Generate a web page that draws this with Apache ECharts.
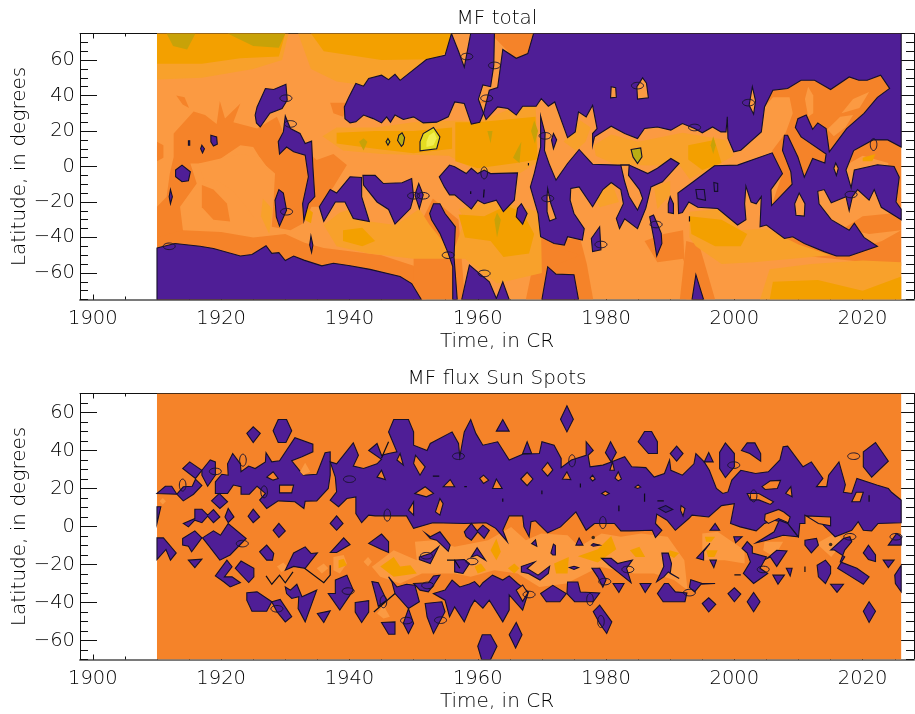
<!DOCTYPE html>
<html><head><meta charset="utf-8">
<style>html,body{margin:0;padding:0;background:#fff}#c{width:915px;height:714px}</style>
<script src="https://cdn.jsdelivr.net/npm/echarts@6/dist/echarts.min.js"></script>
</head><body><div id="c"></div>
<script>
// ---- tick labels / titles ----
const timeTicks=[1900,1920,1940,1960,1980,2000,2020];
const latTicks=[-60,-40,-20,0,20,40,60];
const titles=["MF total","MF flux Sun Spots"];
const xName="Time, in CR", yName="Latitude, in degrees";

// ---- MF total contour bands, [time, latitude] ----
const totalBase=[[[1910,75],[2026,75],[2026,-75],[1910,-75]]];
const totalOrange=[
[[1912.6,18.6],[1915.7,31],[1917.5,29],[1919.3,24],[1919.8,37],[1920.6,27],[1923,35.5],[1921.9,25],[1925.6,21.4],[1928.7,28],[1930,16.7],[1932.6,11],[1934.9,3.6],[1937.5,7],[1939.6,.8],[1937.5,-11.5],[1935.2,-22.7],[1934.1,-22.7],[1932.8,-32],[1930.8,-36],[1927.9,-34],[1928.2,-17],[1928.4,-4],[1926.6,1.7],[1925,11],[1923,12],[1918.8,1.7],[1915.2,1.7],[1916.2,-9.6],[1913.6,-22.7],[1914.1,-37.7],[1910,-40.6],[1910,-22.7],[1911.5,-17],[1912,-4],[1912.6,5.4]],
[[1917,-10.5],[1918.8,-13],[1920.9,-20.8],[1921.4,-31],[1918.8,-30],[1917,-23]],
[[1910,-40],[1914,-36],[1920,-37],[1925,-40],[1930,-38],[1933,-43],[1936,-46],[1945,-50],[1950,-56],[1952,-75],[1910,-75]],
[[1910,14],[1911,12],[1911,5],[1910,3]],
[[1913,40],[1914.3,39],[1915,33],[1914,35]],
[[1937,36],[1940,36],[1939,28],[1937.5,30]],
[[1953,-18],[1957,-30],[1958,-75],[1950,-75],[1950,-40]],
[[1967.5,-75],[1969.5,-40],[1976,-41],[1977,-55],[1978,-75]],
[[1969.5,-20],[1971,-35],[1969.5,-42],[1976,-50],[1969,-60]],
[[1986,-42],[1989,-38],[1992,-36],[1992.5,-75],[1994,-75],[1992,-52],[1988,-54]],
[[1992.5,-42],[1994.5,-44],[1997,-75],[1991.5,-75]],
[[2004.5,25],[2004.7,33.6],[2006,43],[2008.3,44],[2010.4,48.6],[2012.5,48.6],[2015,43.4],[2017.9,50.5],[2019.4,48.6],[2020.7,48.6],[2022.8,51.5],[2024.2,44],[2022.3,39],[2020.2,30],[2017.5,21.4],[2014.8,8.3],[2014,2],[2010.9,-6],[2009,-10],[2005.8,-22],[2007.5,-4],[2005.9,7.7],[2006,15]],
[[2002,-36],[2008,-38],[2014,-46],[2018,-48],[2023,-42],[2026,-36],[2026,-56],[2018,-53],[2010,-50],[2003,-44]],
[[2017,-35],[2020,-28],[2026,-26],[2026,-36],[2021,-38]],
[[2016,10],[2021,17],[2026,14],[2026,-24],[2024,-18],[2024,2],[2020,6],[2017,0]],
[[1960,36],[1969,36],[1970,45],[1962,75],[1968.7,75],[1968,55],[1963,40]]
];
const totalPale=[
[[1916.5,1.7],[1923,7],[1926,5.4],[1927.9,-4],[1928.2,-19],[1927,-34],[1925,-28.4],[1924.3,-24.6],[1921.9,-14],[1919.3,-7.7],[1917.5,-9.6]],
[[2004.2,19.5],[2004.7,33.6],[2006,39],[2008.6,39],[2009.1,30],[2008,19],[2006,9.5],[2001.7,5.7],[2000.6,9.2]],
[[2011.5,45],[2012.3,40],[2012.3,30],[2011.5,28],[2011,38]],
[[2014.5,21],[2016.5,28],[2018.5,29],[2017.3,22],[2015.5,17]],
[[2016.7,30],[2018.5,38],[2021,42],[2019.5,33]]
];
const totalWarm=[
[[1910,75],[1930.5,75],[1929.5,60],[1925,55],[1917,50],[1910,49]],
[[1932,75],[1934,55],[1938,48],[1942,46],[1948,48],[1953,60],[1955.9,75]],
[[1935.8,17],[1938,22],[1944,22],[1950,25],[1957,26],[1960,25],[1966,34],[1969,34],[1969.5,3],[1966.5,-4],[1960,-3],[1955.5,6],[1945,7],[1939,9]],
[[1935.5,-30],[1936,-33],[1938.5,-26],[1941.5,-23],[1943.1,-31],[1947.2,-33],[1950.9,-24],[1952.5,-33],[1956.1,-49],[1958,-30],[1957,-24],[1962,-20],[1966,-22],[1969.8,-26],[1970,-60],[1963,-66],[1958,-52],[1950,-52],[1943,-49],[1938,-45]],
[[1926.5,-18],[1928,-24],[1927.5,-38],[1926.2,-28]],
[[1978.1,12],[1980.8,18],[1985,14],[1991.9,19],[1998.7,15],[1999.9,6],[1996.9,0],[1993,-7],[1991.4,1],[1986.8,.6],[1981.3,1.2],[1978.4,6.1]],
[[1973.4,14],[1976,26],[1977.6,22],[1976.8,14],[1975.3,9]],
[[1981,-10],[1982,-20],[1979,-23],[1978,-15]],
[[1993,-25.5],[1997.8,-24],[2001,-36],[2005,-35],[2010,-44],[2015,-50],[2009,-52],[2003,-54],[1998,-55],[1994,-45],[1993,-40]],
[[2005.5,-58],[2012,-55],[2020,-53],[2026,-54],[2026,-75],[2004,-75]],
[[1983,-8],[1985.5,-18],[1985,-24],[1983,-18]],
[[1987.5,-12],[1990,-8],[1990,-16],[1988,-24]]
];
const totalAmber=[
[[1910,75],[1930,75],[1929,62],[1923,61],[1917,58],[1910,58]],
[[1934,75],[1936,65],[1945,60],[1953,60.5],[1955,64],[1955.9,75]],
[[1938,19],[1944,20],[1950,20],[1956,22],[1956,10],[1950,7.5],[1944,10],[1938,13]],
[[1956.5,25],[1960,25],[1969,28],[1969.3,4],[1966,2],[1960,-1],[1956.5,3]],
[[1939,-36],[1942,-34.5],[1944,-42],[1942,-45],[1939,-42]],
[[1957,-27],[1961,-28],[1964.5,-22],[1967,-26],[1968.8,-38],[1968,-49],[1964,-51],[1962,-42],[1958,-40]],
[[1992.8,12],[1996.9,15],[1998,2],[1995,-2],[1992.8,4]],
[[1993,-28],[1998,-30],[2002,-38],[2001,-45],[1997,-45],[1993.3,-38]],
[[2006,-65],[2013,-64],[2020,-70],[2026,-62],[2026,-75],[2005.5,-75]],
[[1933,-22],[1934.3,-26],[1934,-32],[1933,-30]],
[[2020,5],[2022,7],[2021.5,3],[2020,3]]
];
const totalOlive=[
[[1911.5,75],[1912.5,68],[1914.7,66],[1916,75]],
[[1921,75],[1925,68],[1929,67],[1930,75]],
[[1941.5,14],[1942.2,9],[1942.8,14],[1942.2,16]],
[[1961.5,20],[1962,13],[1962.3,20]],
[[1968.3,20],[1968.9,13],[1969.4,20],[1968.8,26]],
[[1965.5,5],[1966.5,2],[1966.8,14],[1966.2,10]],
[[1962.6,-30],[1963,-40],[1963.6,-30],[1963,-26]],
[[1996.3,12],[1996.7,7],[1997.1,12],[1996.7,17]]
];
// ---- MF total closed contours ----
const totalPurple=[
[[1910,-46],[1912.8,-43.4],[1916.7,-45],[1918.8,-46.2],[1923,-50.5],[1924.8,-49.6],[1927,-44.7],[1927.9,-49],[1929,-48.6],[1930,-53],[1931.3,-50.5],[1932.9,-52.8],[1935.7,-56],[1937.5,-54.6],[1940.1,-56],[1943.2,-58],[1947.9,-62],[1949.7,-66],[1951.2,-75],[1910,-75]],
[[1939.2,33.6],[1939.9,39],[1941,46.8],[1942.2,45.3],[1943,49.6],[1945,51.5],[1946.1,49],[1947.1,52],[1947.9,48.6],[1952,60.3],[1954.9,62.7],[1955.9,75],[1957,65],[1957.9,56],[1958.9,75],[1962.6,75],[1962.5,57],[1962,45],[1960.8,46],[1960.1,38],[1960.9,30],[1960.3,25],[1959,23.9],[1957.9,35.5],[1956.4,36.4],[1955.4,28],[1953.6,25],[1951.5,24.6],[1950,28],[1948.4,26.5],[1947.1,29],[1946.4,25],[1945.8,28],[1945,24.6],[1943.7,27],[1942.2,29],[1941,25.2],[1940.1,24.6],[1939.3,27]],
[[1963.1,44.5],[1963.9,66],[1966,61],[1967.8,63.7],[1968.7,75],[2026,75],[2026,11],[2023.9,15],[2021.6,15],[2018.6,9],[2017.4,-2],[2018.2,-12],[2018.7,-2],[2022.3,1],[2024.9,0],[2025.7,-6],[2025.2,-20],[2026,-24],[2026,-30],[2022.9,-23],[2021.8,-13],[2021,-19],[2019.2,-13],[2018.4,-17],[2017.9,-25],[2017.4,-17],[2015.1,-20.5],[2014,-13],[2013,-14],[2013.2,-21],[2015.1,-30],[2017.9,-36],[2018.7,-32],[2020.2,-40],[2022.3,-45],[2017.9,-50.5],[2015.9,-50.5],[2014,-48],[2010.9,-43.4],[2009.1,-39.6],[2007.8,-40.6],[2005,-33],[2004,-34],[2004.2,-17],[2003.4,-21],[2002.6,-20],[2001.8,-11],[2001.6,-21],[2001.8,-30],[2000.5,-33],[1997.4,-23.7],[1994.3,-23],[1992.9,-20],[1991.9,-26],[1991.3,-26.5],[1991.2,-15],[1993.8,-8],[1996.9,.4],[2000.5,.8],[2005.9,7.7],[2007.5,-4],[2005.7,-13],[2005.8,-22],[2009,-10],[2008.8,-3],[2007.5,9],[2007.8,17.6],[2008.3,17.6],[2009.9,5.4],[2010.9,-6],[2012.2,4.5],[2014.1,2],[2014.3,7],[2010.4,16.7],[2009.5,22],[2009.9,27],[2011.2,29],[2012.2,21],[2013,24.6],[2014.3,21.4],[2014.8,8.3],[2017.5,21.4],[2020.2,30],[2022.3,39],[2024.2,44],[2022.8,51.5],[2020.7,48.6],[2019.4,48.6],[2017.9,50.5],[2015,43.4],[2012.5,48.6],[2010.4,48.6],[2008.3,44],[2006,43],[2004.7,33.6],[2004.2,19.5],[2001,9.2],[1999.9,8.3],[1999,15.8],[1998.9,28],[1998.7,19.5],[1997.9,19.5],[1996.6,22.3],[1995,19],[1993.8,21.4],[1991.9,24.2],[1990.1,20.5],[1988,22.3],[1986,21.4],[1984.9,15.8],[1982.9,18.6],[1980.8,22.7],[1978.2,16.7],[1977.9,12],[1977.9,18.6],[1978.6,21.4],[1977.9,34.5],[1976.9,28],[1975.7,30.8],[1975.2,19.5],[1974,16.3],[1972,36.4],[1971,34],[1969.9,38.3],[1969.1,34],[1967,34],[1966,29],[1964.7,32.7],[1963.1,33.6],[1961.3,26.5],[1960.9,30],[1961.8,43]],
[[1969.8,28.4],[1970.5,18.6],[1970.4,9],[1971.2,.8],[1972.2,-7.7],[1974,1.7],[1975.8,9.6],[1977.9,1.3],[1981.8,.8],[1983.6,.8],[1984.7,-1],[1986.5,-4],[1988,-1],[1990.1,4.5],[1991.4,1.7],[1988.8,-8.6],[1987,-11.5],[1986.2,-23.5],[1984.9,-35],[1982.9,-29.5],[1982.1,-35],[1981.6,-29.3],[1982.7,-21],[1982.3,-13],[1980.8,-9],[1979.5,-13],[1977.9,-22.7],[1975.8,-11.5],[1974.5,-12.4],[1974.4,-19],[1975,-26.5],[1976.6,-35],[1976.3,-41.5],[1974,-39.6],[1973.5,-44.3],[1971.9,-43.4],[1969.8,-39.6],[1969.4,-26.5],[1968.2,-11.5],[1968.8,-4],[1969.8,11]],
[[1954,-5.8],[1955.6,.8],[1956.4,-.2],[1958.2,-4],[1959,-1],[1960,-4],[1961,-2],[1962,-4],[1966.2,-3.6],[1965.7,-19],[1964,-25.5],[1962.9,-19],[1961,-21],[1960,-19],[1959,-24],[1956.4,-16],[1955.6,-16],[1954.8,-11.5]],
[[1952.5,-26.5],[1953.1,-21],[1954.1,-21],[1954.9,-26.5],[1956.5,-34],[1956.3,-51],[1956.8,-75],[1956.1,-75],[1956.1,-56.5],[1955.4,-49],[1954.1,-37.7],[1952.8,-30]],
[[1925.3,29],[1925.6,33.6],[1926.9,44],[1928.2,43.4],[1930.1,46.4],[1930.3,37.4],[1929.5,32.7],[1927.6,30],[1926.1,22.3],[1925.5,24.6]],
[[1930,28.5],[1930.8,21.4],[1932.3,18.6],[1933.1,13],[1934.1,14.3],[1934.3,-.2],[1934.6,-17],[1933.6,-21],[1932.9,-30.6],[1932.7,-21],[1933.6,-5.8],[1933.1,6.4],[1931.3,8.3],[1930.2,11],[1929.1,7],[1928.9,14],[1929.7,19.5]],
[[1928.4,-19],[1929,-13],[1929.7,-15],[1930.2,-24.6],[1929.1,-33.6],[1928.6,-28.4]],
[[1934,-39.2],[1934.3,-44.3],[1934.1,-48.5],[1933.8,-44.3]],
[[1911.9,-17],[1912.1,-13],[1912.4,-17],[1912.1,-21]],
[[1912.9,-2],[1913.9,.8],[1915.2,-3],[1914.9,-8],[1913.9,-8.6],[1912.9,-5.8]],
[[1918.4,17.6],[1919.3,16.7],[1919.4,12.6],[1918.8,11.6],[1918.4,13.9]],
[[1917,12],[1917.4,10],[1917.1,7.7],[1916.8,10]],
[[1914.9,14.5],[1915.1,14.5],[1915.1,12],[1914.9,12]],
[[1935.3,-22.7],[1937,-13],[1938,-15],[1940.1,-5.8],[1941.9,-6.2],[1941.9,-17],[1943.1,-31],[1940.6,-29.3],[1939.3,-20],[1937.8,-20],[1936,-31]],
[[1942.1,-5],[1944,-5],[1945.3,-9.6],[1948.2,-9.2],[1949.7,-6.8],[1950,-17],[1949.5,-23.7],[1947.1,-32.5],[1946.1,-24.2],[1944.3,-20],[1942.2,-10.5]],
[[1950.2,-16],[1950.8,-9.6],[1951.5,-16],[1950.9,-23.7]],
[[1971.8,18.6],[1972.3,15],[1971.8,10],[1971.5,15]],
[[1966.8,-21],[1967.7,-26.5],[1967,-32.5],[1966,-28.4],[1966.2,-23.5]],
[[1990,-17],[1990.5,-21],[1990.5,-26.5],[1989.7,-26],[1989.7,-21]],
[[1977.7,-40.6],[1979,-34],[1979.2,-47],[1977.9,-48]],
[[1986.8,-28.4],[1987.4,-27.4],[1988.6,-37.7],[1988.7,-43.4],[1987.9,-50.5],[1987.5,-41.5]],
[[1970,-75],[1970.9,-56.5],[1972.2,-60.7],[1975,-61],[1975.7,-75]],
[[1993.4,-75],[1994,-61],[1995.2,-75]],
[[1957.5,-75],[1958.7,-55.6],[1960.8,-62],[1961.8,-65],[1962.9,-74.4],[1963.9,-65],[1964.9,-75]],
[[1996.8,-9],[1997.4,-9.5],[1997.4,-14],[1996.9,-14]],
[[1994,-13],[1995.3,-13],[1995.5,-19],[1994.2,-18]]
];
const totalIslands=[
[[1980.8,45],[1981.5,44.5],[1981.6,39],[1980.7,38.7]],
[[1984.8,45],[1985.7,50],[1986.3,47],[1986.6,38.7],[1984.9,38]],
[[2002.8,45],[2003.3,37],[2003,29.5],[2002.3,34.5]],
[[2015.8,2],[2016.2,-1],[2015.9,-5],[2015.5,-1]],
[[2010.1,-15],[2011,-21],[2010.9,-28],[2009.6,-27.5],[2009.4,-21]],
[[1970.9,-12.4],[1971.4,-21],[1972.2,-29.3],[1971.2,-30.8],[1970.8,-25.5],[1970.8,-17]],
[[1982.3,.8],[1983.6,.8],[1983.5,-5],[1985.2,-13],[1985.7,-18],[1984.9,-24.6],[1983.6,-17],[1982.9,-8.6]]
];
const totalYellowRim=[
[[1947.7,17.6],[1948.2,19],[1948.6,16.3],[1948.4,12.6],[1948.1,11.4],[1947.5,14.7]],
[[1946,15.8],[1946.3,14],[1946,12],[1945.7,14]],
[[1983.9,9.6],[1985.4,10.5],[1985.6,5.4],[1984.9,1.7],[1984.2,5.4]]
];
const totalYellow=[[[1951,14],[1951.5,18.6],[1953.1,22],[1954.1,16.7],[1953.6,10],[1951,8.8]]];
const totalYellowCore=[[[1952,14],[1952.4,17.5],[1953.2,19.5],[1953.6,16],[1953.1,12],[1952,11]]];
const totalEllipseH=[[1930.1,38.5],[1930.8,24],[1911.9,-45],[1930.2,-25.5],[1950,-16.5],[1951.5,-16.5],[1955.4,-50],[1958.3,62],[1962.6,57],[1961.4,38.5],[1970.5,17.3],[1970.9,-18],[1979.2,-44],[1984.9,45.6],[1987.8,-32.7],[1993.8,22],[2002.2,36],[2018.2,-15.8],[1961,-60.3]];
const totalEllipseV=[[1961,-3.6],[2021.7,12.4]];
const totalLines=[[[1958.9,-14],[1958.9,-15.5]],[[1961,-13],[1960.9,-17.5]],[[1967.9,2],[1967.9,.5]],[[1993,-28],[1993,-31]]];
const totalDots=[];

// ---- MF flux Sun Spots contour bands ----
const spotBase=[[[1910,70],[2026,70],[2026,-70],[1910,-70]]];
const spotPale=[
[[1943.5,-21.2],[1946.9,-12.5],[1950.5,-17.7],[1950.2,-8],[1953,-7.2],[1956.4,-10.7],[1961.6,-7.2],[1965.2,-.2],[1967.5,-7.2],[1969.9,-3.7],[1974,-4.6],[1975.8,-10.7],[1979.3,-3.7],[1982.3,-5.4],[1985.5,-3.7],[1989.6,-5.4],[1992.2,-17.7],[1992.7,-33.5],[1990.6,-28.2],[1987.5,-24.7],[1984.4,-24.7],[1979,-21.2],[1973.8,-30],[1969.6,-31.8],[1966.2,-24.7],[1962.6,-23],[1958.9,-26.5],[1956.4,-24.7],[1951.3,-24.7],[1947.9,-30],[1944.8,-26.5]],
[[1995,-3.7],[1997.4,-2.8],[2001.6,-12.5],[2001.6,-19.5],[1998.5,-17.7],[1995,-17.7]],
[[2004.7,-8],[2007.6,-8],[2006.2,-16],[2004.5,-12.5]],
[[2012.8,-9],[2016,-3],[2017,-8],[2015.1,-16]],
[[1937.5,-16],[1939.1,-15],[1939.6,-19.5],[1938.5,-24.7],[1937.5,-23]],
[[1928.7,-21],[1929.7,-18.9],[1930.5,-22],[1929.4,-23.9]],
[[1934.9,-22],[1936,-19.5],[1936.7,-22],[1935.7,-24.7]],
[[1942.2,-18.6],[1942.9,-16],[1943.5,-18.6],[1942.9,-21]],
[[1910.4,13.3],[1910.9,15],[1911.4,13.3],[1910.9,11.6]],
[[1944.3,-45.8],[1945.3,-41.4],[1946.3,-47.5],[1945.3,-48.4]]
];
const spotAmber=[
[[1944.8,-21],[1946.9,-16],[1947.9,-21],[1949.5,-20.4],[1950.5,-24.7],[1946.9,-26.5]],
[[1962,-12.5],[1962.9,-6.3],[1963.6,-13.3],[1962.9,-17.7]],
[[1964.7,-22],[1965.7,-19.5],[1966.5,-22],[1965.7,-24.7]],
[[1959.5,-21],[1960.5,-19.5],[1961.3,-23],[1960,-24.7]],
[[1975.6,-15.6],[1978.7,-12],[1980.8,-5],[1981.6,-12],[1978.7,-19]],
[[1971.9,-19.5],[1974.2,-16],[1974,-24.7],[1972.2,-24.7]],
[[1989.9,-12.5],[1991.4,-14],[1990.6,-16.6],[1989.6,-14.7]],
[[1983.7,-12.5],[1985.2,-10.7],[1986.1,-16],[1984.6,-16]],
[[1995.4,-5.4],[1997,-5.4],[1996.4,-8],[1995.6,-8]],
[[1995.6,-12.5],[1997.4,-12.5],[1996.9,-16],[1995.9,-16]],
[[1938.3,-17.7],[1939.1,-17],[1939.6,-20.4],[1938.3,-22]]
];
const spotPurple=[
[[1910,17.4],[1911.3,21.2],[1912.3,21.2],[1913.1,17],[1914.1,20.9],[1915.5,21.2],[1916,24.9],[1917,21.6],[1915.7,17],[1914.1,13.5],[1913.1,17]],
[[1914,30.5],[1915.1,34],[1917,29.6],[1916,25.3]],
[[1917,29.6],[1918.3,35],[1919.1,34],[1919.1,27],[1917.9,21.2],[1917,27]],
[[1919.1,23.5],[1920.1,27.5],[1921.1,27],[1921,33],[1921.8,38.4],[1923,33],[1923.1,28.8],[1924.3,31.8],[1925.3,30.5],[1926.9,34],[1927,38.8],[1927.9,34],[1929.1,34.6],[1931.5,46.7],[1934.3,43.3],[1934.3,39.3],[1932.6,36.7],[1931,34.6],[1932.8,27],[1934.9,27.5],[1936.2,38.8],[1937,39.3],[1937,27],[1936.7,20],[1934.9,13.5],[1933.1,13.3],[1932.9,9.5],[1931.5,13],[1928.9,13.5],[1927.1,9.5],[1926,13.9],[1926.9,17.4],[1925.6,21.2],[1924.4,17],[1923.1,17],[1923.1,20.9],[1921.9,21.8],[1921,17.4],[1919.1,17.4]],
[[1918.5,13.5],[1919.7,17.4],[1921,13],[1919.8,9.5]],
[[1924,49],[1925,52.5],[1926.1,49],[1925,44.2]],
[[1928.1,50.4],[1928.9,56.3],[1930.2,56.3],[1931,50.4],[1930.1,44.2],[1928.9,44.2]],
[[1914.1,1.6],[1915.9,4.2],[1915.9,9.1],[1917,9.1],[1917.9,6],[1918.8,8.9],[1919.8,5],[1918.8,2],[1917.9,5.4],[1917,2],[1915.9,3.3],[1914.9,-.2]],
[[1920.6,5],[1921.1,9.5],[1922,5],[1921.1,2]],
[[1924.2,5.4],[1925,9.1],[1926,5],[1925,2]],
[[1928.1,-2],[1929,1.6],[1930,-2.3],[1929,-5.8]],
[[1937,1.6],[1938,5.6],[1939,1.6],[1938,-2]],
[[1910,10.4],[1910.6,10.4],[1910,1.6]],
[[1910,-6],[1911,-6],[1913,-13.9],[1912.1,-17.7],[1911.4,-12.1],[1910,-17.4]],
[[1914,-6.3],[1915.9,-2.3],[1917,-6],[1915.4,-13.3],[1914.9,-10.4],[1914,-9.8]],
[[1917.1,-6],[1918.8,-2.3],[1919.9,-4.6],[1921.1,1.6],[1923.9,-6.3],[1921.4,-15],[1919.8,-17.7],[1918,-9.8]],
[[1914.9,-17.7],[1917,-17.2],[1915.9,-21.6]],
[[1919.1,-26],[1920.9,-17.7],[1921.7,-21.2],[1920.5,-26.5],[1921.7,-26.5],[1923,-29.6],[1921.4,-31.8],[1920.4,-29.1]],
[[1922.2,-22],[1923.1,-18.2],[1925.1,-22],[1925.1,-26.5],[1924.3,-29.5]],
[[1926,-13.3],[1927.1,-9.8],[1928.2,-14.2],[1928,-17.7],[1927.1,-17.7]],
[[1930,-23],[1931.3,-13.9],[1933.1,-10.7],[1934,-14.2],[1935,-13.9],[1934.1,-17.7],[1933.1,-22],[1931.3,-21]],
[[1930,-31.8],[1930.8,-33.5],[1931.8,-30.4],[1932.6,-37],[1934.9,-33.5],[1933.1,-50.2],[1932,-43.2],[1932.1,-37],[1931,-37.9],[1930.2,-35.3]],
[[1937.8,-28.2],[1939.6,-25.6],[1940.6,-33.5],[1938.5,-44],[1936.7,-35.3],[1937.8,-35.3]],
[[1924,-34.9],[1925.6,-34.4],[1927.9,-39.6],[1927.1,-44.6],[1924.8,-44.6],[1924,-38.8]],
[[1927.9,-39.6],[1929.2,-38.4],[1931,-47.5],[1930,-50.2],[1928.7,-44.9]],
[[1935,-45.8],[1937,-44.4],[1936,-50.5]],
[[1940.9,-40],[1943,-39],[1943,-45],[1941.9,-50.5],[1940.9,-45]],
[[1945,-50.5],[1947.1,-50.2],[1947.1,-56.7],[1946.1,-56.7]],
[[1951.8,-40.5],[1954.4,-39.6],[1954.9,-44.9],[1953.1,-56.3],[1952.1,-47.5]],
[[1943,-8.9],[1945,-4],[1946.1,-8],[1946.1,-13.7],[1945,-12.1]],
[[1937,-13.7],[1939.1,-6],[1940.1,-9.5],[1938,-13.7]],
[[1951.9,-3.7],[1952.6,-5.4],[1954.1,-2.8],[1955.7,-9.8],[1955.4,-13],[1953.6,-7.2],[1952.6,-6.3]],
[[1950.9,-16],[1952.6,-14.2],[1953.9,-10.7],[1952.6,-19.5],[1950.9,-17.4]],
[[1943.5,-29],[1944.5,-29.6],[1945.8,-38.8],[1944.5,-42],[1944,-35.3]],
[[1946.1,-26.5],[1947.4,-31.8],[1948.9,-30.4],[1950.2,-30.9],[1950.9,-39.6],[1949.2,-43.2],[1947.1,-35.3],[1946.6,-29]],
[[1950,-30],[1952.3,-29.6],[1953.1,-26],[1954.1,-25.6],[1953.1,-30.9],[1952.3,-34.4],[1951,-33.5]],
[[1949.2,-43.2],[1950,-51],[1949.2,-56.3],[1948.4,-51]],
[[1937,34],[1938,33],[1940.6,44],[1941.4,37.5],[1940.6,31.8],[1942.2,30.5],[1944.3,33],[1945,35.4],[1943,40],[1944.3,43.7],[1945,37.5],[1946.1,38.4],[1947.4,39.3],[1946.1,49.8],[1946.9,56.3],[1949.2,56.3],[1950,49.8],[1950,42.8],[1952.1,40],[1952.6,43.7],[1956,49.8],[1957,43.7],[1957.2,36.7],[1957.9,49.8],[1958.9,56.3],[1959.7,49],[1960.8,42.8],[1963.1,44.6],[1964.9,35],[1967,38],[1969.6,38.4],[1970,44.6],[1971.9,42.8],[1973,35.8],[1973,31],[1974.6,35],[1976.9,37.5],[1976.9,44.6],[1978,40],[1977.2,37.5],[1977.5,31.4],[1979.5,32.3],[1980.8,34],[1982.9,36.7],[1984,31.4],[1986.2,31],[1987.5,26],[1989.1,27.9],[1989.9,35],[1990.1,29.6],[1991.9,27],[1993.7,33],[1994,38.4],[1995.3,34],[1996.1,29.6],[1997.2,20],[1998.2,17.4],[1999,18.2],[1999.6,24.4],[2001,29.6],[2003.3,27.9],[2005.3,28.8],[2007.1,35],[2007.6,42],[2008.3,42.3],[2010.7,31.4],[2012,34],[2013.8,25.3],[2012.8,21],[2014.4,21],[2014.7,27],[2016.3,34],[2017.3,22],[2017,18],[2018.3,17.4],[2019.1,25.3],[2022.2,21.8],[2024,20],[2024.5,18],[2026,13.9],[2026,2],[2022.4,1.6],[2021.4,-2.3],[2020.1,-2],[2019.3,2.5],[2018.3,-2],[2015.7,-5.4],[2014.7,-2],[2013.6,1.6],[2011,6],[2011,1.6],[2010.2,1.6],[2010,-5.4],[2008.3,1.6],[2006.2,3.3],[2004.7,1.6],[2003.4,-2.3],[2000.9,-.2],[1999.4,1.6],[2000,12],[1998,11],[1996,5],[1993.4,6],[1992.9,4.2],[1990.8,-2],[1989.5,3.3],[1987.9,6.5],[1987.7,1.6],[1988.7,-2],[1987.7,-5.8],[1987.2,-2],[1983.8,-2.3],[1982.3,-2.3],[1981.3,1.6],[1978.2,1.6],[1976.9,-2],[1975.3,7.7],[1972.9,-.2],[1970.9,-3.3],[1969,3],[1968.3,2.5],[1968,-5.4],[1967.2,-.2],[1967,5.6],[1964.9,5.6],[1963.9,-2],[1964.6,-8],[1962.8,-1],[1961.3,2],[1957.9,1.6],[1953,2],[1950,-1],[1948.9,5.6],[1944,5.6],[1943,6],[1941.9,2],[1941,6.8],[1941,15.6],[1939.6,14.7],[1938.3,10.4],[1937,13.9],[1938,18.2],[1937.8,26]],
[[1957.9,-2.8],[1959,1.6],[1959.9,-2.3],[1960.8,.7],[1961.8,-2],[1961,-6.3],[1960,-2.8],[1959,-7.2],[1958.2,-5.4]],
[[1962.9,50.2],[1963.9,56.3],[1964.9,50.2]],
[[1973.9,63.5],[1974.9,56.5],[1973.9,49.8],[1972.9,56.5]],
[[1980.7,44.6],[1981.6,38.9],[1980.8,34],[1979.9,38.9]],
[[1967,38.4],[1967.7,44.6],[1968.4,38.4]],
[[1985,44.6],[1986,50],[1987.1,50],[1988,44.6],[1988,38.4],[1986.6,38.4]],
[[1990,38.4],[1991,42.3],[1992,38.4],[1991,34.4]],
[[1995.3,34],[1996,38.9],[1996.7,34]],
[[1997.7,39],[1998.6,44],[2000,38.4],[2000,31.4],[1998.6,25.8],[1997.7,30.5]],
[[2001.1,40],[2002,44],[2003.2,44],[2004.1,38.4],[2004.1,34.4],[2002.4,38.4]],
[[2020.1,39.3],[2022,44.2],[2024,34.4],[2021.4,26],[2020.1,31.4]],
[[1953.1,-35.3],[1954.9,-33.5],[1956,-28.2],[1957.2,-31.8],[1958.7,-30.3],[1959.5,-29],[1960.3,-31.8],[1960.8,-29.6],[1962.3,-25.6],[1963.9,-28.2],[1964.9,-26],[1966.2,-30],[1967.9,-34.4],[1967,-44],[1964.9,-36],[1964.9,-44],[1963.9,-50.2],[1961.8,-38.8],[1960.8,-43],[1959.5,-38.8],[1958.9,-42.3],[1957.9,-50.2],[1956.4,-42.3],[1955.6,-47.5],[1954.9,-38.8]],
[[1969.8,-35.3],[1971.7,-31],[1973.8,-35.3],[1972.8,-39.6],[1970.7,-39.6]],
[[1973.9,-35.3],[1974,-29.2],[1975.6,-29.2],[1976,-34.5],[1979,-35],[1978,-39.6],[1975.1,-39.6]],
[[1978,-44.8],[1979,-41.4],[1980.9,-50.2],[1980.1,-56.3],[1979,-51]],
[[1981.1,-30],[1982.8,-30],[1982,-34.7]],
[[1985.3,-30],[1987,-30],[1986.1,-34.7]],
[[1988,-35.3],[1989.1,-30],[1989.7,-30],[1990.8,-34.4],[1992.6,-35],[1992.3,-39.6],[1988.9,-39.6]],
[[1993,-32],[1993.2,-28],[1995,-30],[1997,-30],[1994.8,-30.4],[1993.8,-34.4]],
[[1995,-40.5],[1996,-37.5],[1997.1,-41],[1996,-45]],
[[1999,-35.3],[2000,-32.3],[2001,-35.6],[2000,-39.6]],
[[2002,-39.6],[2003,-34.7],[2004,-39.6],[2003,-44.9]],
[[2020.1,-44.6],[2021,-39.6],[2022,-44.6],[2021,-50.5]],
[[2015,-30.4],[2017,-30.4],[2016,-34.7]],
[[2006,-25.6],[2007.8,-25.6],[2006.8,-30.4]],
[[2008.1,-22],[2009,-22],[2008.7,-26]],
[[2025,-25.6],[2026,-20.4],[2026,-34.4],[2025.1,-30]],
[[1964.9,-57],[1966,-50.5],[1966.9,-57],[1965.9,-64]],
[[1960,-63],[1960.7,-57],[1962,-57],[1963,-63],[1962,-70],[1960.6,-70]],
[[1968.4,-9],[1969,-7],[1969.2,-10.4]],
[[1971.4,-14],[1971.8,-9.3],[1972.1,-10],[1972.1,-15],[1971.7,-15]],
[[1975.3,-9.8],[1975.8,-6],[1976.4,-9.8]],
[[1977.7,-9.8],[1978,-9],[1979,-9.8],[1978,-10.4]],
[[1956.4,-23.9],[1957.7,-24.7],[1958.7,-19.5],[1957.9,-17.4],[1956.4,-17.7]],
[[1959,-16],[1959.9,-11.2],[1961.2,-17.7],[1959.9,-15]],
[[1966.8,-21],[1968.9,-18.6],[1967.7,-22.1],[1969.4,-25.6],[1971.2,-21],[1971,-24.7],[1969.7,-28.2],[1967.9,-24.7],[1966.8,-24]],
[[1974.3,-21.6],[1975,-20.9],[1975.7,-21.6],[1975,-22.6]],
[[1979.3,-16.8],[1980.8,-16.8],[1981.8,-19.5],[1982.9,-18.6],[1984.1,-17.7],[1983.2,-22],[1983.9,-29.6],[1981.8,-23.9],[1980.5,-20.4]],
[[1977.8,-22],[1979,-22],[1980,-28],[1979.5,-32],[1978.7,-26.5]],
[[1987.9,-29],[1989,-21],[1988.7,-14],[1989.7,-14],[1990.2,-19.5],[1990,-24.7],[1991.4,-27.4],[1989.7,-23.9],[1989,-26.5]],
[[1994.1,-16.6],[1996.2,-8.9],[1995.2,-13.3],[1995.2,-17.7]],
[[1996.2,-17.7],[1997.2,-17.7],[1996.8,-21.6]],
[[1996.2,-2],[1997,1.6],[1997.7,-2]],
[[1999.9,-5.4],[2001.2,-5.4],[2000.2,-8.6]],
[[2001.2,-11.5],[2002,-8],[2002.8,-10.7],[2002.8,-14],[2005,-16],[2004,-22],[2005.2,-24.7],[2003,-30],[2001.4,-24.7],[2002.5,-18.6],[2002,-14]],
[[2005,-17],[2006.6,-12.5],[2008.2,-12.9],[2006.6,-21],[2005.6,-16]],
[[2003.4,-8.6],[2006.2,-2.8],[2007,3.3],[2008.3,1.6],[2009.9,-5.4],[2007.6,-4.6],[2005.3,-7]],
[[2011,-7.2],[2012.8,-6.3],[2013.1,-9.8],[2012,-13.9],[2011,-9.8]],
[[2012.9,-20.4],[2014.2,-17.7],[2015,-21],[2015,-24.7],[2014.2,-30],[2013.1,-26.5]],
[[2015,-12.4],[2017,-6.3],[2018,-5.4],[2018.3,-8],[2017.2,-12.4],[2016.5,-18.6],[2019.1,-22],[2021,-26.5],[2020.1,-30.4],[2018,-26],[2016.1,-22],[2017.2,-16],[2015.6,-12.4]],
[[2020.1,-13.9],[2020.9,-9.8],[2022,-15],[2022,-18.4],[2020.9,-17.4]],
[[2023.2,-17.7],[2024.9,-17.7],[2024,-21.6]],
[[2024,-9.8],[2025.3,-3.7],[2026,-5.4],[2026,-9.8]]
];
const spotHoles=[
[[1927.1,26],[1928.1,28.8],[1928.9,25.3],[1928.1,24.4]],
[[1929.1,21.8],[1931.3,21.8],[1931,17.7],[1929.1,17.7]],
[[1944.3,26],[1945,29.6],[1945.6,24.7]],
[[1947.9,38.4],[1948.4,32.3],[1947.4,35]],
[[1950.3,37.5],[1951.8,31.4],[1951,27],[1950,33.2]],
[[1950.2,17.4],[1951.8,20.9],[1953.1,17.4],[1952,15.6]],
[[1949.2,8.6],[1950,13],[1950,6]],
[[1953.4,7.7],[1954.1,14.7],[1954.6,12],[1954.1,6]],
[[1954.6,20.9],[1955.7,24.7],[1956.4,20.9]],
[[1960.3,25.3],[1960.9,27],[1961.7,24.4],[1960.9,22.6]],
[[1962.9,25],[1963.8,20],[1962.3,20]],
[[1966.7,25],[1967.7,28.5],[1968.6,25],[1967.7,21.5]],
[[1970,30],[1970.9,33.7],[1971.7,29.8],[1970.9,26.5]],
[[1973.2,25],[1973.9,28.8],[1974.5,24.7]],
[[1977.5,25.5],[1977.9,27],[1978.3,25],[1977.9,24]],
[[1981.4,25.5],[1981.9,28.8],[1982.4,25],[1981.9,24]],
[[1980.6,29.6],[1981,34],[1981.3,29.6]],
[[1984.5,20.7],[1985,21.9],[1985.4,20.7],[1984.9,20]],
[[1979.3,17.4],[1979.9,18.6],[1980.5,17.4],[1979.9,16.2]],
[[1991.7,11],[1992.3,9.5],[1992,5.5],[1991.6,8.6]],
[[2004.3,21],[2005.6,24],[2007.2,24.3],[2006.7,20],[2004.8,19.5]],
[[2002,17.4],[2003.8,17.4],[2006.1,13],[2005.6,11.6],[2003.8,14],[2002.5,14]],
[[2008,17.4],[2008.8,21],[2009,15.6]],
[[2004.8,6.4],[2006.9,9],[2007.7,7.6],[2008.7,5],[2008.4,2],[2006.9,4.2],[2005.3,1.6],[2004.7,3.3]],
[[2011.2,5.6],[2015,5],[2015,.4],[2013.1,1.6]],
[[2018.3,13],[2019,18],[2020.1,18],[2019.6,13]],
[[1966,-33.5],[1967,-30.8],[1967.8,-35],[1967,-39.4]]
];
const spotHolesPale=[
[[1932.3,28.8],[1933.1,33.5],[1933.9,28.8],[1932.8,27]]
];
const spotDeep=[[[1988.2,9.5],[1989.3,11],[1990.4,9],[1989.3,7.4]]];
const spotEllipseH=[[1919.1,29],[1940,24.9],[1923.3,-9],[1928.7,-43.3],[1939.8,-34],[1948.9,-49.5],[1952,-15.4],[1952.2,-31],[1954.2,-49.3],[1957,37],[1959.1,-18.4],[1968,-35.8],[1979.8,-29],[1983.4,-22.6],[1993,-34.8],[1999.9,32.3],[2004.5,-22.6],[2018.6,37],[2018,-5.4],[2025.2,-5.4]];
const spotEllipseV=[[1914,21.8],[1923.4,34.9],[1945.9,6],[1945.3,-39.6],[1974.7,34.6],[1977.5,-38.4],[1979.2,-50],[1979.5,2.1],[2003,16.1],[1926.7,18.2]];
const spotLines=[
[[1927,-26],[1927.9,-30.4],[1929.1,-25.6],[1930,-29.6],[1931.2,-23.9]],
[[1933,-22],[1936,-29.6],[1937,-25.6],[1937,-20.4]],
[[1943.8,-45],[1947.1,-35.3]],
[[1945,36],[1946.1,44.6]],
[[1955.2,-17.7],[1956.4,-17.7],[1957.2,-22]],
[[1957.9,21],[1958.3,21]],
[[1963.9,14.8],[1963.9,13]],[[1970,19],[1970,17]],[[1976,22.6],[1976,20.5]],[[1982,11],[1982,8]],
[[1986,17.4],[1986,13]],[[1988,13.5],[1989,13.5]],[[2021,16.5],[2021,13]],[[1953,26.5],[1954,26.5]],
[[2011,-21],[2011,-24]],[[2000,-25.5],[2001,-25.5]]
];
const spotDots=[[1978,-5.8],[2015,-9.5]];

// ---- colours ----
const cOrange='#F58329',cPale='#FB9A42',cWarm='#F8A12B',cAmber='#F3A000',cOlive='#C8A208',cPurple='#4F1E96';

const panels=[
 {latMax:75,top:33.5,bands:[[totalBase,cPale,0],[totalOrange,cOrange,0],[totalPale,cPale,0],[totalWarm,cWarm,0],[totalAmber,cAmber,0],[totalOlive,cOlive,0],[totalPurple,cPurple,1],[totalIslands,cPale,1],[totalYellowRim,'#B9AE14',1],[totalYellow,'#E4DC22',1],[totalYellowCore,'#F2EE50',0]],ellH:totalEllipseH,ellV:totalEllipseV,lines:totalLines,dots:totalDots,title:titles[0]},
 {latMax:70,top:393.5,bands:[[spotBase,cOrange,0],[spotPale,cPale,0],[spotAmber,cAmber,0],[spotPurple,cPurple,1],[spotHoles,cOrange,1],[spotHolesPale,cPale,0],[spotDeep,'#3B1B84',1]],ellH:spotEllipseH,ellV:spotEllipseV,lines:spotLines,dots:spotDots,title:titles[1]}
];

const font='"DejaVu Sans"';
const txt='#000';
const range=(a,b,s)=>{const r=[];for(let v=a;v<=b;v+=s)r.push(v);return r;};
const xAxes=[],yAxes=[],grids=[],series=[];

panels.forEach((p,g)=>{
 grids.push({left:80,width:834,top:p.top,height:266,containLabel:false,outerBoundsMode:'none'});
 const base={gridIndex:g,type:'value',min:1898,max:2028,splitLine:{show:false}};
 const xIdx=xAxes.length;
 xAxes.push({...base,position:'bottom',
   axisLine:{show:true,onZero:false,lineStyle:{color:'#7a7a7a',width:2}},
   axisTick:{show:true,inside:true,length:5,customValues:timeTicks,lineStyle:{color:'#111'}},
   axisLabel:{show:true,customValues:timeTicks,margin:9,fontFamily:font,fontWeight:200,fontSize:19.5,color:txt,formatter:v=>String(v)},
   name:xName,nameLocation:'middle',nameGap:32,nameMoveOverlap:false,nameTextStyle:{fontFamily:font,fontWeight:200,fontSize:20,color:txt}});
 xAxes.push({...base,position:'bottom',axisLine:{show:false,onZero:false},
   axisTick:{show:true,inside:true,length:3,customValues:range(1900,2025,5),lineStyle:{color:'#111'}},axisLabel:{show:false}});
 xAxes.push({...base,position:'top',
   axisLine:{show:true,onZero:false,lineStyle:{color:'#111',width:1}},
   axisTick:{show:true,inside:true,length:5,customValues:timeTicks,lineStyle:{color:'#111'}},axisLabel:{show:false},
   name:p.title,nameLocation:'middle',nameGap:5,nameMoveOverlap:false,nameTextStyle:{fontFamily:font,fontWeight:200,fontSize:20,color:txt}});
 xAxes.push({...base,position:'top',axisLine:{show:false,onZero:false},
   axisTick:{show:true,inside:true,length:3,customValues:range(1900,2025,5),lineStyle:{color:'#111'}},axisLabel:{show:false}});
 const ybase={gridIndex:g,type:'value',min:-p.latMax,max:p.latMax,splitLine:{show:false}};
 const yIdx=yAxes.length;
 const yMinor=range(-p.latMax,p.latMax,5);
 yAxes.push({...ybase,position:'left',
   axisLine:{show:true,onZero:false,lineStyle:{color:'#111',width:1}},
   axisTick:{show:true,inside:true,length:17,customValues:latTicks,lineStyle:{color:'#111'}},
   axisLabel:{show:true,customValues:latTicks,margin:5,fontFamily:font,fontWeight:200,fontSize:19.5,color:txt,formatter:v=>v<0?'\u2212'+Math.abs(v):String(v)},
   name:yName,nameLocation:'middle',nameGap:50,nameMoveOverlap:false,nameTextStyle:{fontFamily:font,fontWeight:200,fontSize:20,color:txt}});
 yAxes.push({...ybase,position:'left',axisLine:{show:false,onZero:false},
   axisTick:{show:true,inside:true,length:8,customValues:yMinor,lineStyle:{color:'#111'}},axisLabel:{show:false}});
 yAxes.push({...ybase,position:'right',
   axisLine:{show:true,onZero:false,lineStyle:{color:'#111',width:1}},
   axisTick:{show:true,inside:true,length:17,customValues:latTicks,lineStyle:{color:'#111'}},axisLabel:{show:false}});
 yAxes.push({...ybase,position:'right',axisLine:{show:false,onZero:false},
   axisTick:{show:true,inside:true,length:8,customValues:yMinor,lineStyle:{color:'#111'}},axisLabel:{show:false}});

 p.bands.forEach(([polys,color,stroked],b)=>{
  series.push({type:'custom',xAxisIndex:xIdx,yAxisIndex:yIdx,coordinateSystem:'cartesian2d',clip:true,silent:true,z:2,
   encode:{x:0,y:1},
   data:polys.map((q,i)=>[q[0][0],q[0][1],i]),
   renderItem:(params,api)=>{
    const q=polys[api.value(2)];
    return {type:'polygon',shape:{points:q.map(c=>api.coord(c))},
      style:{fill:color,stroke:stroked?'#14102a':null,lineWidth:stroked?1.1:0}};
   }});
 });
 series.push({type:'custom',xAxisIndex:xIdx,yAxisIndex:yIdx,clip:true,silent:true,z:3,encode:{x:0,y:1},
   data:p.lines.map((q,i)=>[q[0][0],q[0][1],i]),
   renderItem:(params,api)=>{
    const q=p.lines[api.value(2)];
    return {type:'polyline',shape:{points:q.map(c=>api.coord(c))},style:{fill:null,stroke:'#0c0c18',lineWidth:1.2}};
   }});
 [[p.ellH,6,3.3],[p.ellV,3.3,6]].forEach(([pts,rx,ry])=>{
  series.push({type:'custom',xAxisIndex:xIdx,yAxisIndex:yIdx,clip:true,silent:true,z:4,encode:{x:0,y:1},
   data:pts,
   renderItem:(params,api)=>{
    const c=api.coord([api.value(0),api.value(1)]);
    return {type:'ellipse',shape:{cx:c[0],cy:c[1],rx:rx,ry:ry},style:{fill:null,stroke:'#1a1430',lineWidth:1}};
   }});
 });
 series.push({type:'scatter',xAxisIndex:xIdx,yAxisIndex:yIdx,silent:true,z:4,symbolSize:3.5,itemStyle:{color:'#111'},data:p.dots});
});

const chart=echarts.init(document.getElementById('c'),null,{renderer:'canvas'});
chart.setOption({animation:false,backgroundColor:'#fff',grid:grids,xAxis:xAxes,yAxis:yAxes,series:series});
</script></body></html>
